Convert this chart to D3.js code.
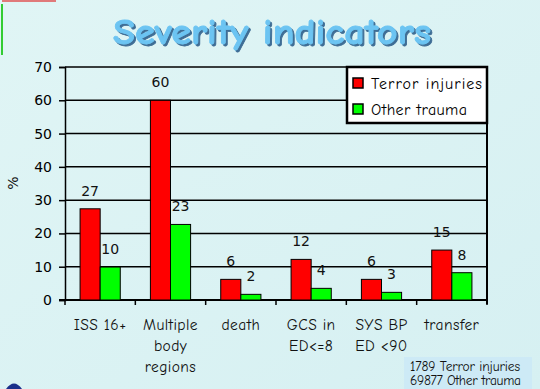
<!DOCTYPE html>
<html>
<head>
<meta charset="utf-8">
<script src="https://cdn.jsdelivr.net/npm/d3@7"></script>
<style>
  html, body { margin: 0; padding: 0; }
  body { width: 540px; height: 389px; overflow: hidden; }
</style>
</head>
<body>
<svg id="chart" width="540" height="389"></svg>
<script>
// ---- data ----
const categories = [["ISS 16+"], ["Multiple", "body", "regions"], ["death"], ["GCS in", "ED<=8"], ["SYS BP", "ED <90"], ["transfer"]];
const seriesNames = ["Terror  injuries", "Other trauma"];
const terrorValues = [27.4, 60, 6.2, 12.2, 6.2, 15.0];
const otherValues = [9.9, 22.7, 1.7, 3.5, 2.3, 8.2];
const terrorLabels = ["27", "60", "6", "12", "6", "15"];
const otherLabels = ["10", "23", "2", "4", "3", "8"];
const yTicks = [0, 10, 20, 30, 40, 50, 60, 70];
const noteLines = ["1789 Terror injuries", "69877 Other trauma"];

(function () {
const colors = ["#ff0000", "#00ff00"];
const comic = "'Comic Sans MS', 'Comic Neue', 'DejaVu Sans', sans-serif";
const plain = "'DejaVu Sans', Verdana, sans-serif";

const svg = d3.select("#chart");

// background
const defs = svg.append("defs");
const bg = defs.append("linearGradient").attr("id", "bg").attr("x1", 0).attr("y1", 0).attr("x2", 1).attr("y2", 1);
bg.append("stop").attr("offset", "0%").attr("stop-color", "#e0f5f5");
bg.append("stop").attr("offset", "100%").attr("stop-color", "#d6f0f2");
svg.append("rect").attr("width", 540).attr("height", 389).attr("fill", "url(#bg)");
const shadow = defs.append("filter").attr("id", "shadow").attr("x", "-10%").attr("y", "-30%").attr("width", "120%").attr("height", "160%");
shadow.append("feDropShadow").attr("dx", 2).attr("dy", 2).attr("stdDeviation", 0.6)
  .attr("flood-color", "#2f5f8a").attr("flood-opacity", 0.9);

// decorations top-left
svg.append("line").attr("x1", 2).attr("y1", 1).attr("x2", 56).attr("y2", 1).attr("stroke", "#e05050").attr("stroke-width", 1.5);
svg.append("line").attr("x1", 2).attr("y1", 4).attr("x2", 2).attr("y2", 55).attr("stroke", "#33cc33").attr("stroke-width", 2);

// title
svg.append("text").attr("x", 272).attr("y", 44).attr("text-anchor", "middle")
  .attr("font-family", comic).attr("font-weight", "bold").attr("font-size", 36)
  .attr("textLength", 318).attr("lengthAdjust", "spacingAndGlyphs")
  .attr("fill", "#6cc4f2").attr("stroke", "#6cc4f2").attr("stroke-width", 0.8)
  .attr("filter", "url(#shadow)").text("Severity indicators");

// scales
const pLeft = 65, pRight = 487, pTop = 67, pBottom = 300;
const x = d3.scaleBand().domain(d3.range(categories.length)).range([pLeft, pRight]).paddingInner(0).paddingOuter(0);
const y = d3.scaleLinear().domain([0, 70]).range([pBottom, pTop]);
const inner = d3.scaleBand().domain([0, 1]).range([0, x.bandwidth()]).paddingOuter(0.75).paddingInner(0);

// gridlines
svg.append("g").selectAll("line").data(yTicks.filter(d => d > 0)).join("line")
  .attr("x1", pLeft).attr("x2", pRight).attr("y1", d => y(d)).attr("y2", d => y(d))
  .attr("stroke", "#000").attr("stroke-width", 1.5);

// left axis
const yAxis = svg.append("g").attr("transform", `translate(${pLeft},0)`)
  .call(d3.axisLeft(y).tickValues(yTicks).tickSize(6).tickPadding(7));
yAxis.select(".domain").attr("stroke", "#000").attr("stroke-width", 1.5);
yAxis.selectAll(".tick line").attr("stroke", "#000").attr("stroke-width", 1.5);
yAxis.selectAll(".tick text").attr("font-family", plain).attr("font-size", 14).attr("fill", "#000");

// right wall
svg.append("line").attr("x1", pRight).attr("x2", pRight).attr("y1", pTop).attr("y2", pBottom + 4)
  .attr("stroke", "#000").attr("stroke-width", 2);

// bottom axis with boundary ticks
const xb = d3.scaleLinear().domain([0, categories.length]).range([pLeft, pRight]);
svg.append("line").attr("x1", pLeft - 6).attr("x2", pRight).attr("y1", pBottom).attr("y2", pBottom)
  .attr("stroke", "#000").attr("stroke-width", 2);
svg.append("g").selectAll("line").data(d3.range(categories.length + 1)).join("line")
  .attr("x1", d => xb(d)).attr("x2", d => xb(d)).attr("y1", pBottom).attr("y2", pBottom + 5)
  .attr("stroke", "#000").attr("stroke-width", 1.5);

// bars
const series = [terrorValues, otherValues];
const labels = [terrorLabels, otherLabels];
series.forEach((vals, s) => {
  svg.append("g").selectAll("rect").data(vals).join("rect")
    .attr("x", (d, i) => x(i) + inner(s))
    .attr("y", d => y(d))
    .attr("width", inner.bandwidth())
    .attr("height", d => pBottom - y(d))
    .attr("fill", colors[s]).attr("stroke", "#000").attr("stroke-width", 1);
  svg.append("g").selectAll("text").data(vals).join("text")
    .attr("x", (d, i) => x(i) + inner(s) + inner.bandwidth() / 2)
    .attr("y", d => y(d) - 13)
    .attr("text-anchor", "middle")
    .attr("font-family", plain).attr("font-size", 14).attr("fill", "#111")
    .text((d, i) => labels[s][i]);
});

// category labels
const cat = svg.append("g").selectAll("text").data(categories).join("text")
  .attr("text-anchor", "middle")
  .attr("font-family", comic).attr("font-size", 15.5).attr("letter-spacing", 0.4).attr("fill", "#111");
cat.each(function(lines, i) {
  d3.select(this).selectAll("tspan").data(lines).join("tspan")
    .attr("x", x(i) + x.bandwidth() / 2)
    .attr("y", (d, j) => 330 + j * 21)
    .text(d => d);
});

// y title
svg.append("text").attr("transform", "translate(18,183) rotate(-90)").attr("text-anchor", "middle")
  .attr("font-family", plain).attr("font-size", 14).attr("fill", "#111").text("%");

// legend
const lg = svg.append("g");
lg.append("rect").attr("x", 347).attr("y", 67).attr("width", 140).attr("height", 56)
  .attr("fill", "#fff").attr("stroke", "#000").attr("stroke-width", 2.5);
const legendWidths = [111, 96];
seriesNames.forEach((n, i) => {
  lg.append("rect").attr("x", 353).attr("y", 78 + i * 26).attr("width", 10).attr("height", 10)
    .attr("fill", colors[i]).attr("stroke", "#000").attr("stroke-width", 1.5);
  lg.append("text").attr("x", 371).attr("y", 89 + i * 26)
    .attr("font-family", comic).attr("font-size", 16)
    .attr("textLength", legendWidths[i]).attr("lengthAdjust", "spacing")
    .attr("fill", "#000").text(n);
});

// note box
svg.append("rect").attr("x", 404).attr("y", 357).attr("width", 128).attr("height", 32).attr("fill", "#cdeaf6");
noteLines.forEach((t, i) => {
  svg.append("text").attr("x", 410).attr("y", 371 + i * 14)
    .attr("font-family", comic).attr("font-size", 13.5)
    .attr("textLength", 110 + i).attr("lengthAdjust", "spacing")
    .attr("fill", "#111").text(t);
});

// bottom-left icon
svg.append("path").attr("d", "M6,389 Q14,378 22,389 Z").attr("fill", "#1a2f8a");
})();
</script>
</body>
</html>
